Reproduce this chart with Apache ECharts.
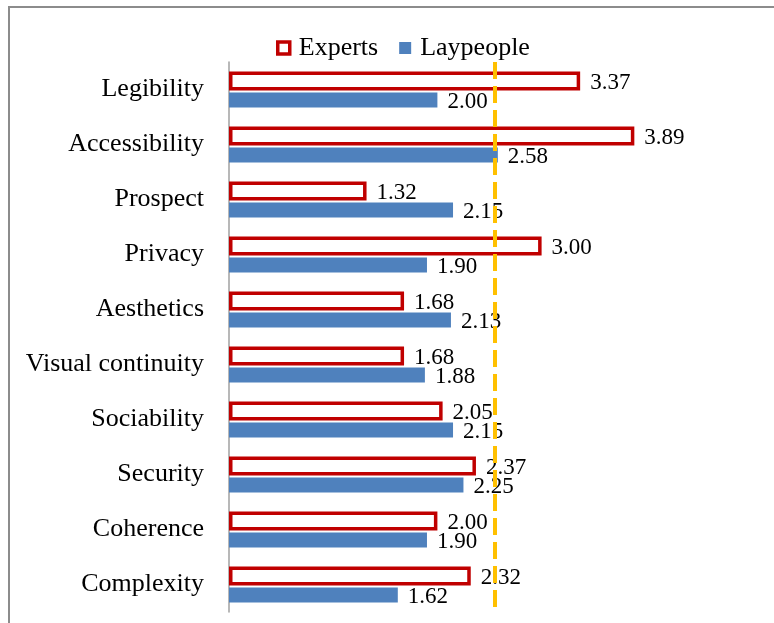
<!DOCTYPE html>
<html>
<head>
<meta charset="utf-8">
<script src="https://cdn.jsdelivr.net/npm/echarts@6/dist/echarts.min.js"></script>
<style>
  html, body { margin: 0; padding: 0; background: #fff; }
  #chart { width: 774px; height: 623px; }
</style>
</head>
<body>
<div id="chart"></div>
<script>
// Mean ratings per urban design quality
const categories = ['Legibility', 'Accessibility', 'Prospect', 'Privacy', 'Aesthetics',
  'Visual continuity', 'Sociability', 'Security', 'Coherence', 'Complexity'];
const experts = [3.37, 3.89, 1.32, 3.00, 1.68, 1.68, 2.05, 2.37, 2.00, 2.32];
const laypeople = [2.00, 2.58, 2.15, 1.90, 2.13, 1.88, 2.15, 2.25, 1.90, 1.62];
const referenceValue = 2.55;

const serif = '"Liberation Serif", "Times New Roman", serif';
const RED = '#C00000';
const BLUE = '#4F81BD';

const chart = echarts.init(document.getElementById('chart'), null, { renderer: 'canvas' });

const valueLabel = {
  show: true,
  position: 'right',
  distance: 10,
  offset: [0, 2],
  color: '#000',
  fontFamily: serif,
  fontSize: 23,
  formatter: p => p.value.toFixed(2)
};

chart.setOption({
  animation: false,
  backgroundColor: '#fff',
  graphic: [{
    type: 'rect',
    shape: { x: 9, y: 7, width: 900, height: 900 },
    style: { fill: 'none', stroke: '#8c8c8c', lineWidth: 2 },
    silent: true,
    z: -1
  }],
  legend: {
    top: 30,
    left: 271,
    itemWidth: 12,
    itemHeight: 12,
    itemGap: 21,
    icon: 'rect',
    textStyle: { fontFamily: serif, fontSize: 26, color: '#000', padding: [0, 0, 0, 4] },
    data: [
      { name: 'Experts', itemStyle: { color: '#fff', borderColor: RED, borderWidth: 3.5 } },
      { name: 'Laypeople', itemStyle: { color: BLUE, borderWidth: 0 } }
    ]
  },
  grid: { left: 229, right: 24, top: 62, bottom: 11, containLabel: false },
  xAxis: {
    type: 'value',
    min: 0,
    max: 5,
    show: false
  },
  yAxis: {
    type: 'category',
    data: categories,
    inverse: true,
    axisLine: { show: true, lineStyle: { color: '#a0a0a0', width: 1.5 } },
    axisTick: { show: false },
    axisLabel: { fontFamily: serif, fontSize: 26, color: '#000', margin: 25 },
    splitLine: { show: false }
  },
  series: [
    {
      name: 'Experts',
      type: 'bar',
      data: experts,
      barWidth: 19,
      barGap: '10%',
      itemStyle: { color: '#fff', borderColor: RED, borderWidth: 3.5 },
      label: valueLabel
    },
    {
      name: 'Laypeople',
      type: 'bar',
      data: laypeople,
      barWidth: 15,
      barGap: '10%',
      itemStyle: { color: BLUE },
      label: valueLabel,
      markLine: {
        silent: true,
        symbol: 'none',
        z: 5,
        label: { show: false },
        lineStyle: { color: '#FFC000', width: 4, type: [17, 7] },
        data: [{ xAxis: referenceValue }]
      }
    }
  ]
});
</script>
</body>
</html>
